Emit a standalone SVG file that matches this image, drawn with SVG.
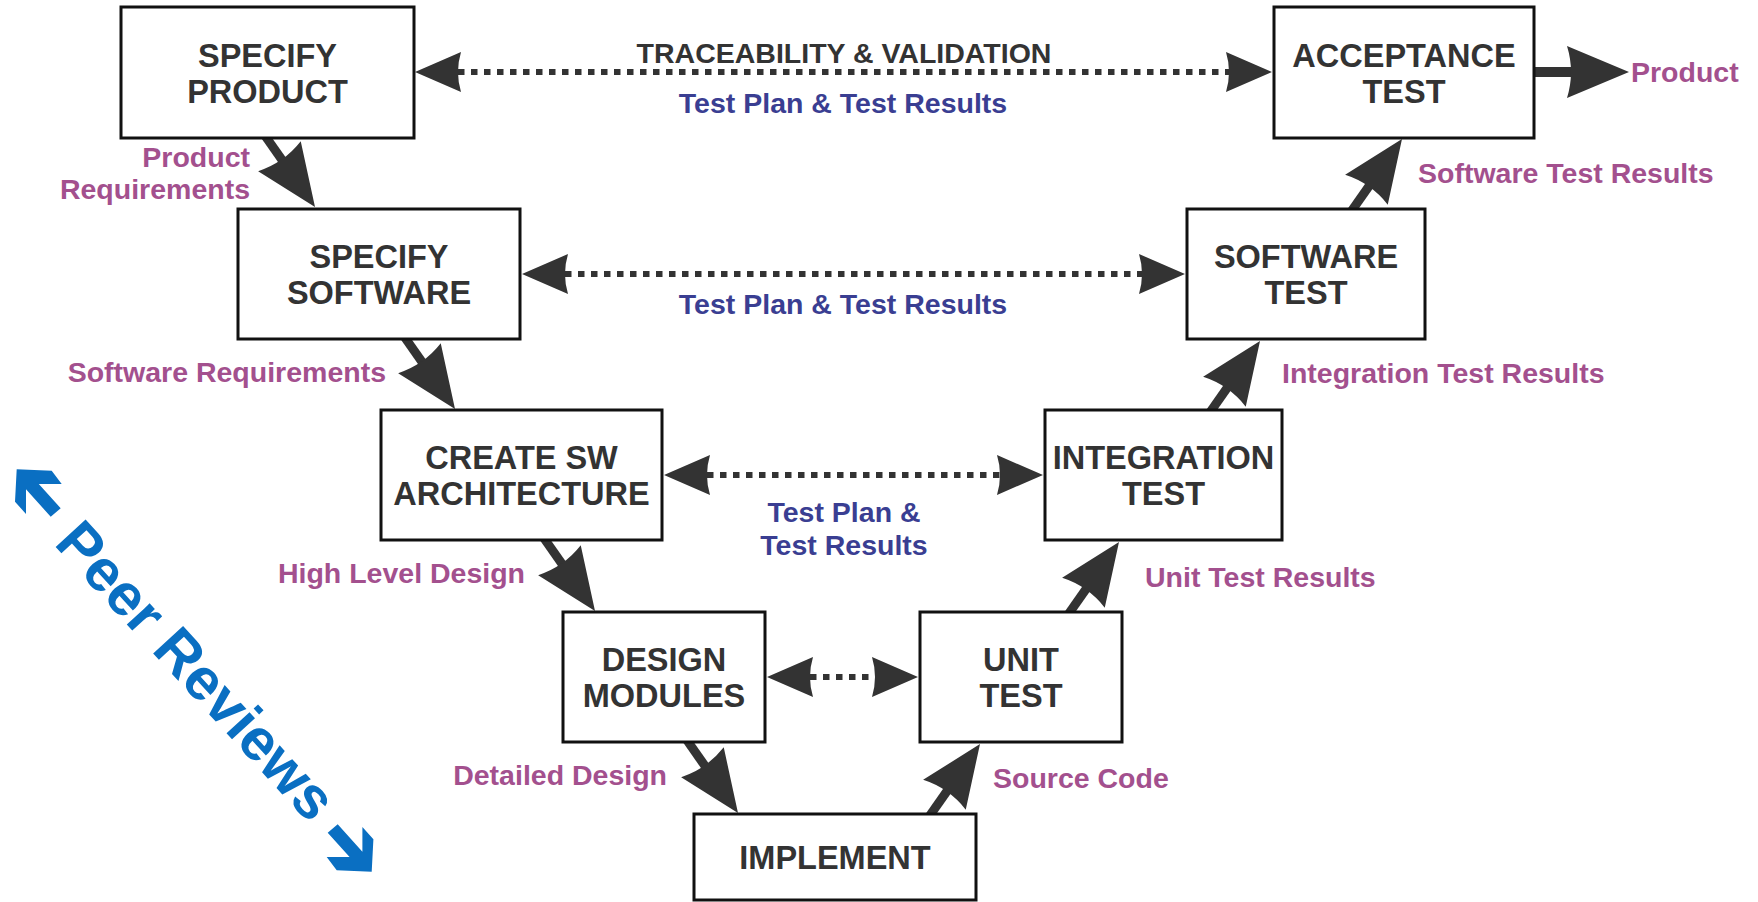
<svg xmlns="http://www.w3.org/2000/svg" xmlns:xlink="http://www.w3.org/1999/xlink" width="1758" height="902" viewBox="0 0 1758 902">
<defs>
<style>
.box{fill:#fff;stroke:#111;stroke-width:3}
.bt{font-family:"Liberation Sans",Arial,sans-serif;font-weight:bold;font-size:32.5px;fill:#333;text-anchor:middle}
.lb{font-family:"Liberation Sans",Arial,sans-serif;font-weight:bold;font-size:28.5px}
.pu{fill:#a3508e}
.bu{fill:#3a3e92}
.dk{fill:#333}
.dot{stroke:#333;stroke-width:6;stroke-dasharray:6.5 6.5;fill:none}
.shaft{stroke:#333;stroke-width:9;fill:none}
.hd{fill:#333}
.pr{font-family:"Liberation Sans",Arial,sans-serif;font-weight:bold;font-size:59px;fill:#0a6fc2}
.pa{fill:#0a6fc2}
</style>
<path id="bigHead" d="M0,0 L-62,-26 Q-54,0 -62,26 Z"/>
<path id="dotHead" d="M0,0 L-46,-20 Q-40,0 -46,20 Z"/>
<path id="peerArrow" d="M0,0 L35,1.4 L45,14.7 L22.1,14.7 L44,39 L34,47.4 L9.3,20 L9.3,44.7 L-1.7,32.4 Z"/>
</defs>
<rect width="1758" height="902" fill="#fff"/>

<g id="connectors">
  <line class="dot" x1="458" y1="72" x2="1229" y2="72"/>
  <use href="#dotHead" class="hd" transform="translate(415,72) rotate(180)"/>
  <use href="#dotHead" class="hd" transform="translate(1272,72)"/>
  <line class="dot" x1="565" y1="274" x2="1142" y2="274"/>
  <use href="#dotHead" class="hd" transform="translate(522,274) rotate(180)"/>
  <use href="#dotHead" class="hd" transform="translate(1185,274)"/>
  <line class="dot" x1="707" y1="475" x2="1000" y2="475"/>
  <use href="#dotHead" class="hd" transform="translate(664,475) rotate(180)"/>
  <use href="#dotHead" class="hd" transform="translate(1043,475)"/>
  <line class="dot" x1="810" y1="677" x2="875" y2="677"/>
  <use href="#dotHead" class="hd" transform="translate(767,677) rotate(180)"/>
  <use href="#dotHead" class="hd" transform="translate(918,677)"/>

  <line class="shaft" x1="259.6" y1="128" x2="292" y2="174.2"/>
  <use href="#bigHead" class="hd" transform="translate(315,207) rotate(55)"/>
  <line class="shaft" x1="399.6" y1="330" x2="432" y2="376.2"/>
  <use href="#bigHead" class="hd" transform="translate(455,409) rotate(55)"/>
  <line class="shaft" x1="538.2" y1="530" x2="572" y2="578.2"/>
  <use href="#bigHead" class="hd" transform="translate(595,611) rotate(55)"/>
  <line class="shaft" x1="681.9" y1="733" x2="715" y2="780.2"/>
  <use href="#bigHead" class="hd" transform="translate(738,813) rotate(55)"/>

  <line class="shaft" x1="923.9" y1="824" x2="957" y2="776.8"/>
  <use href="#bigHead" class="hd" transform="translate(980,744) rotate(-55)"/>
  <line class="shaft" x1="1062.9" y1="622" x2="1096" y2="574.8"/>
  <use href="#bigHead" class="hd" transform="translate(1119,542) rotate(-55)"/>
  <line class="shaft" x1="1204.6" y1="420" x2="1237" y2="373.8"/>
  <use href="#bigHead" class="hd" transform="translate(1260,341) rotate(-55)"/>
  <line class="shaft" x1="1346.6" y1="218" x2="1379" y2="171.8"/>
  <use href="#bigHead" class="hd" transform="translate(1402,139) rotate(-55)"/>

  <line class="shaft" style="stroke-width:10" x1="1525" y1="72" x2="1590" y2="72"/>
  <use href="#bigHead" class="hd" transform="translate(1629,72)"/>
</g>

<g id="node-specify-product">
  <rect class="box" x="121" y="7" width="293" height="131"/>
  <text class="bt" x="267.5" y="66.5">SPECIFY</text>
  <text class="bt" x="267.5" y="102.5">PRODUCT</text>
</g>
<g id="node-acceptance-test">
  <rect class="box" x="1274" y="7" width="260" height="131"/>
  <text class="bt" x="1404" y="66.5">ACCEPTANCE</text>
  <text class="bt" x="1404" y="102.5">TEST</text>
</g>
<g id="node-specify-software">
  <rect class="box" x="238" y="209" width="282" height="130"/>
  <text class="bt" x="379" y="268">SPECIFY</text>
  <text class="bt" x="379" y="304">SOFTWARE</text>
</g>
<g id="node-software-test">
  <rect class="box" x="1187" y="209" width="238" height="130"/>
  <text class="bt" x="1306" y="268">SOFTWARE</text>
  <text class="bt" x="1306" y="304">TEST</text>
</g>
<g id="node-create-sw-architecture">
  <rect class="box" x="381" y="410" width="281" height="130"/>
  <text class="bt" x="521.5" y="469">CREATE SW</text>
  <text class="bt" x="521.5" y="505">ARCHITECTURE</text>
</g>
<g id="node-integration-test">
  <rect class="box" x="1045" y="410" width="237" height="130"/>
  <text class="bt" x="1163.5" y="469">INTEGRATION</text>
  <text class="bt" x="1163.5" y="505">TEST</text>
</g>
<g id="node-design-modules">
  <rect class="box" x="563" y="612" width="202" height="130"/>
  <text class="bt" x="664" y="671">DESIGN</text>
  <text class="bt" x="664" y="707">MODULES</text>
</g>
<g id="node-unit-test">
  <rect class="box" x="920" y="612" width="202" height="130"/>
  <text class="bt" x="1021" y="671">UNIT</text>
  <text class="bt" x="1021" y="707">TEST</text>
</g>
<g id="node-implement">
  <rect class="box" x="694" y="814" width="282" height="86"/>
  <text class="bt" x="835" y="869">IMPLEMENT</text>
</g>

<g id="labels">
  <text class="lb dk" x="844" y="63" text-anchor="middle">TRACEABILITY &amp; VALIDATION</text>
  <text class="lb bu" x="843" y="113" text-anchor="middle">Test Plan &amp; Test Results</text>
  <text class="lb bu" x="843" y="314" text-anchor="middle">Test Plan &amp; Test Results</text>
  <text class="lb bu" x="844" y="522" text-anchor="middle">Test Plan &amp;</text>
  <text class="lb bu" x="844" y="555" text-anchor="middle">Test Results</text>

  <text class="lb pu" x="250" y="167" text-anchor="end">Product</text>
  <text class="lb pu" x="250" y="199" text-anchor="end">Requirements</text>
  <text class="lb pu" x="386" y="382" text-anchor="end">Software Requirements</text>
  <text class="lb pu" x="525" y="583" text-anchor="end">High Level Design</text>
  <text class="lb pu" x="667" y="785" text-anchor="end">Detailed Design</text>
  <text class="lb pu" x="993" y="788">Source Code</text>
  <text class="lb pu" x="1145" y="587">Unit Test Results</text>
  <text class="lb pu" x="1282" y="383">Integration Test Results</text>
  <text class="lb pu" x="1418" y="183">Software Test Results</text>
  <text class="lb pu" x="1631" y="82">Product</text>
</g>

<g id="peer-reviews">
  <use href="#peerArrow" class="pa" transform="translate(16.7,469.3)"/>
  <use href="#peerArrow" class="pa" transform="translate(371.7,871.7) rotate(180)"/>
  <text class="pr" transform="translate(53,544) rotate(47.5)">Peer Reviews</text>
</g>
</svg>
